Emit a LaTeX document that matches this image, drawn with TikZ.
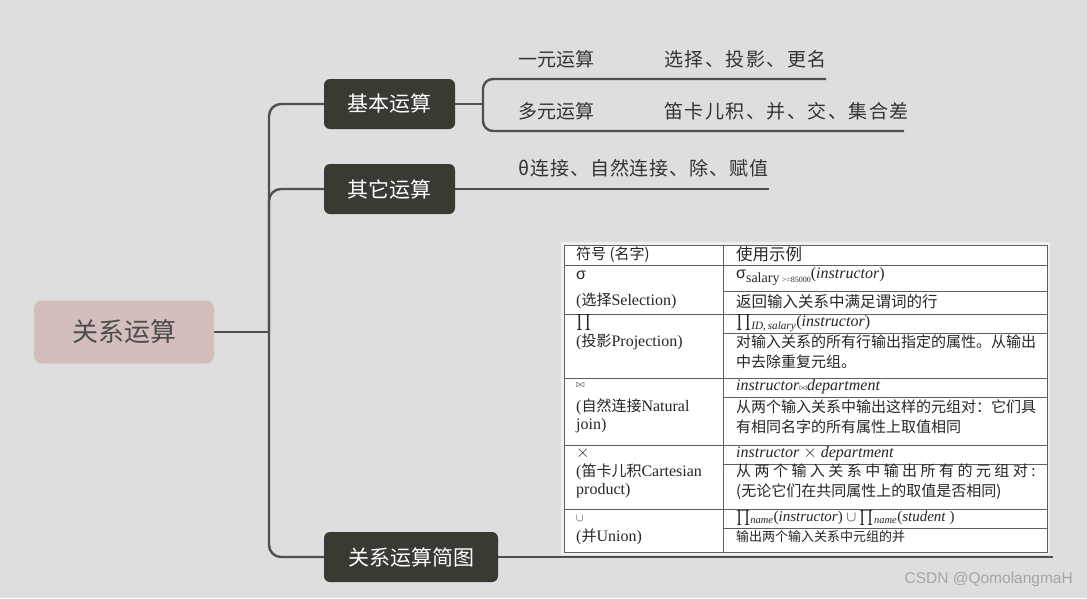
\documentclass[tikz,border=0pt]{standalone}
\usepackage{amsmath,amssymb}
\usepackage{fontspec}
\usepackage{tikz}
\usetikzlibrary{positioning}
\setmainfont{Liberation Serif}
\newfontfamily\cjk{Noto Sans CJK SC}
\newfontfamily\cjkwide[LetterSpace=8]{Noto Sans CJK SC}
\newfontfamily\cjkmid[LetterSpace=5]{Noto Sans CJK SC}
\newfontfamily\cjkspread[LetterSpace=23]{Noto Sans CJK SC}
\newfontfamily\markfont{Liberation Sans}
\usepackage{xcolor}
\definecolor{canvas}{RGB}{222,222,222}
\definecolor{rootpink}{RGB}{212,190,188}
\definecolor{branchdark}{RGB}{58,58,51}
\definecolor{linkgray}{RGB}{78,78,84}
\definecolor{leafink}{RGB}{51,51,51}
\definecolor{rulegray}{RGB}{95,95,95}
\definecolor{markgray}{RGB}{165,165,165}

\begin{document}
\begin{tikzpicture}[
    x=1pt, y=-1pt,
    rootbox/.style={fill=rootpink, rounded corners=8pt, minimum width=180pt, minimum height=63pt, inner sep=0pt, text=black!70, font=\cjk\fontsize{26}{30}\selectfont},
    branchbox/.style={fill=branchdark, rounded corners=6pt, minimum height=50pt, inner sep=0pt, text=white, font=\cjk\fontsize{21}{25}\selectfont},
    leaf/.style={anchor=west, inner sep=0pt, text=leafink, font=\cjk\fontsize{19}{23}\selectfont},
    link/.style={draw=linkgray, line width=2.4pt, rounded corners=12pt},
    rule/.style={draw=rulegray, line width=0.9pt},
    cell/.style={anchor=west, inner sep=0pt, align=left, text=black!85, font=\fontsize{16}{18}\selectfont},
    desc/.style={cell, font=\cjk\fontsize{15}{20}\selectfont}
]
\fill[canvas] (0,0) rectangle (1087,598);
\useasboundingbox (0,0) rectangle (1087,598);

% ========== ROOT AND TRUNK ==========
\node[rootbox] (root) at (124,332) {关系运算};
\node[branchbox, minimum width=131pt] (basic) at (389.5,104) {基本运算};
\node[branchbox, minimum width=131pt] (other) at (389.5,189) {其它运算};
\node[branchbox, minimum width=174pt] (sketch) at (411,557) {关系运算简图};

\coordinate (trunk) at (269,332);
\draw[link] (root.east) -- (trunk);
\draw[link] (trunk) |- (basic.west);
\draw[link] (trunk) |- (other.west);
\draw[link] (trunk) |- (sketch.west);

% ========== BASIC OPERATIONS ==========
\node[leaf] (unary) at (518,59) {一元运算};
\node[leaf, font=\cjkwide\fontsize{19}{23}\selectfont] (unaryops) at (664,59) {选择、投影、更名};
\node[leaf] (nary) at (518,111) {多元运算};
\node[leaf, font=\cjkwide\fontsize{19}{23}\selectfont] (naryops) at (664,111) {笛卡儿积、并、交、集合差};

\coordinate (fork) at (483,104);
\coordinate (unary-end) at (826,79);
\coordinate (nary-end) at (904,131);
\draw[link] (basic.east) -- (fork);
\draw[link, rounded corners=10pt] (unary-end) -| (fork) |- (nary-end);

% ========== OTHER OPERATIONS ==========
\node[leaf, font=\cjkmid\fontsize{19}{23}\selectfont] (otherops) at (518,168) {θ连接、自然连接、除、赋值};
\coordinate (other-end) at (769,189);
\draw[link] (other.east) -- (other-end);

% ========== SKETCH TABLE ==========
\coordinate (sketch-end) at (1053,557);
\draw[link] (sketch.east) -- (sketch-end);

\fill[black!6] (561,242) rectangle (1050,555);
\fill[white] (564,245) rectangle (1047,552);
\draw[rule] (564,245) rectangle (1047,552);
\draw[rule] (723,245) -- (723,552);
\foreach \y in {265,314,378,445,509}
    \draw[rule] (564,\y) -- (1047,\y);
\foreach \y in {291,333,397,464,528}
    \draw[rule] (723,\y) -- (1047,\y);

% header
\node[cell, font=\cjk\fontsize{15}{18}\selectfont] (hd-sym) at (576,255) {符号 (名字)};
\node[cell, font=\cjk\fontsize{16.5}{20}\selectfont] (hd-ex) at (736,254) {使用示例};

% selection
\node[cell] (sel-sym) at (576,275) {{\markfont σ}};
\node[cell] (sel-name) at (576,301) {({\cjk\fontsize{15}{18}\selectfont 选择}Selection)};
\node[cell] (sel-ex) at (736,276) {{\markfont σ}\raisebox{-4pt}{\fontsize{14}{16}\selectfont salary\,{\fontsize{8}{9}\selectfont >=85000}}(\textit{instructor})};
\node[desc, font=\cjk\fontsize{15.5}{20}\selectfont] (sel-desc) at (736,302) {返回输入关系中满足谓词的行};

% projection
\node[cell] (proj-sym) at (576,322) {$\prod$};
\node[cell] (proj-name) at (576,342) {({\cjk\fontsize{15}{18}\selectfont 投影}Projection)};
\node[cell] (proj-ex) at (736,323) {$\prod$\textsubscript{\textit{ID},\,\textit{salary}}(\textit{instructor})};
\node[desc] (proj-desc) at (736,352) {对输入关系的所有行输出指定的属性。从输出\\中去除重复元组。};

% natural join
\node[cell, font=\fontsize{10}{12}\selectfont] (join-sym) at (576,385) {$\bowtie$};
\node[cell] (join-name) at (576,416) {({\cjk\fontsize{15}{18}\selectfont 自然连接}Natural\\join)};
\node[cell] (join-ex) at (736,387) {\textit{instructor}{\fontsize{9}{10}\selectfont$\bowtie$}\textit{department}};
\node[desc] (join-desc) at (736,417) {从两个输入关系中输出这样的元组对：它们具\\有相同名字的所有属性上取值相同};

% cartesian product
\node[cell] (prod-sym) at (576,453) {$\times$};
\node[cell] (prod-name) at (576,481) {({\cjk\fontsize{15}{18}\selectfont 笛卡儿积}Cartesian\\product)};
\node[cell] (prod-ex) at (736,454) {\textit{instructor} $\times$ \textit{department}};
\node[desc] (prod-desc) at (736,482) {{\cjkspread 从两个输入关系中输出所有的元组对:}\\(无论它们在共同属性上的取值是否相同)};

% union
\node[cell, font=\fontsize{11}{12}\selectfont] (union-sym) at (576,518) {$\cup$};
\node[cell] (union-name) at (576,537) {({\cjk\fontsize{15}{18}\selectfont 并}Union)};
\node[cell, font=\fontsize{15}{17}\selectfont] (union-ex) at (736,518) {$\prod$\textsubscript{\textit{name}}(\textit{instructor}) $\cup$ $\prod$\textsubscript{\textit{name}}(\textit{student} )};
\node[desc, font=\cjk\fontsize{13}{16}\selectfont] (union-desc) at (736,537) {输出两个输入关系中元组的并};

% watermark
\node[anchor=east, inner sep=0pt, text=markgray, font=\markfont\fontsize{15.5}{18}\selectfont] (mark) at (1073,579) {CSDN @QomolangmaH};

\end{tikzpicture}
\end{document}
